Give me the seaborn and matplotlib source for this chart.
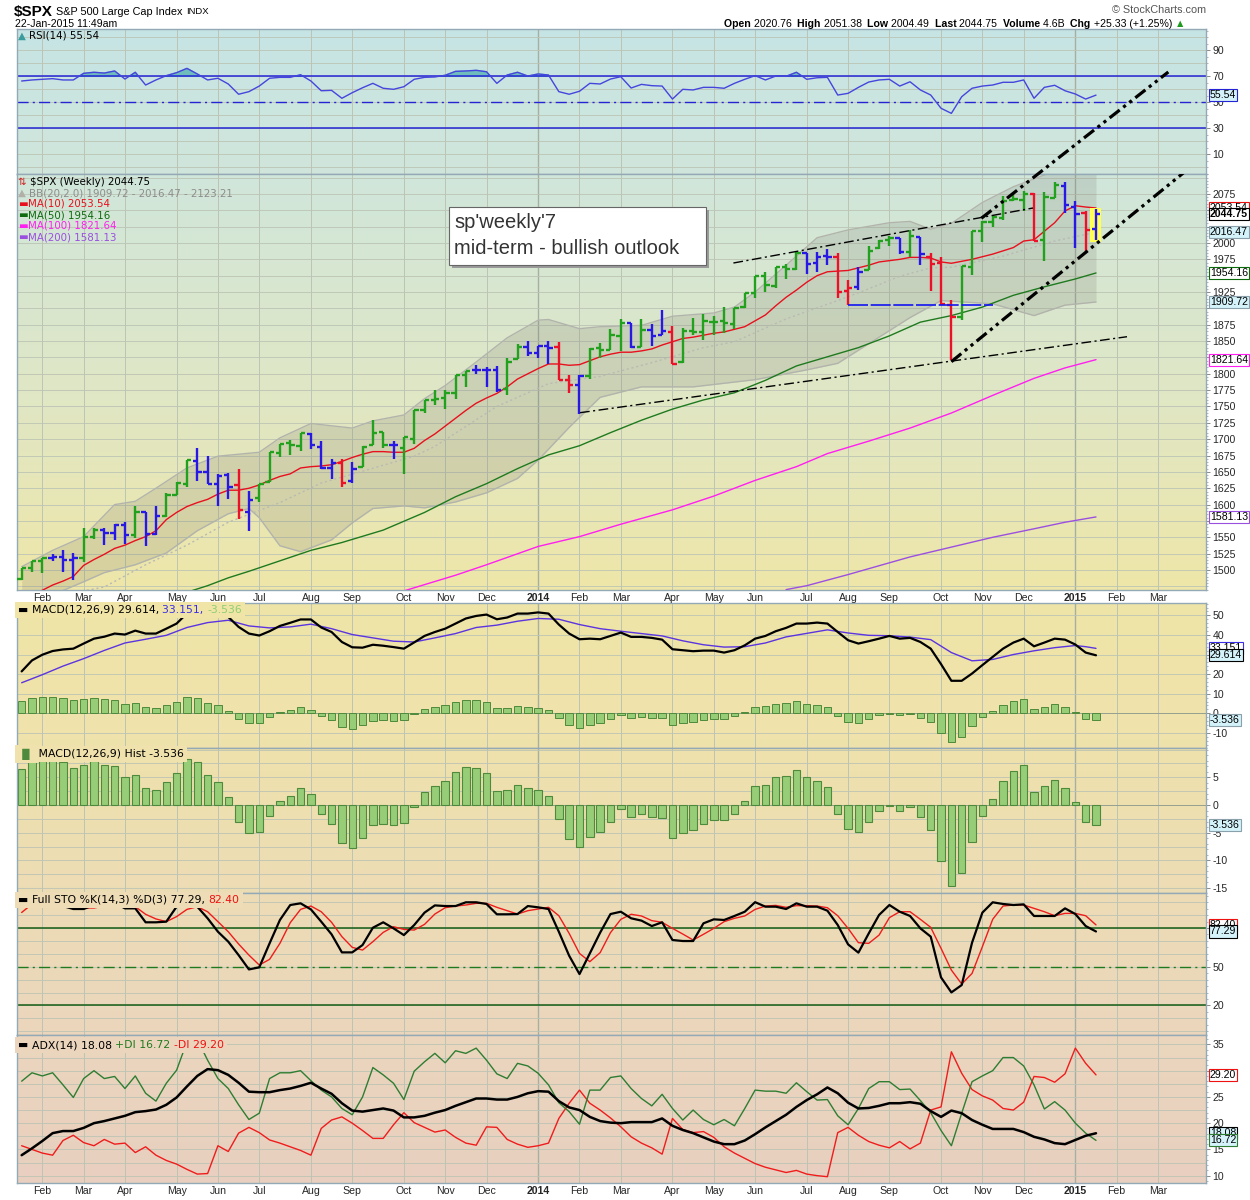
import numpy as np
import pandas as pd
import matplotlib
matplotlib.use("Agg")
import matplotlib.pyplot as plt
import seaborn as sns
from matplotlib.patches import Rectangle
from matplotlib.ticker import MultipleLocator

sns.set_style("white")
plt.rcParams["font.family"] = ["DejaVu Sans"]

W, H = 1250, 1200

# ---------------------------------------------------------------- data
first_week = "2013-01-21"

opens = [1485.98, 1502.96, 1513.17, 1517.93, 1519.79, 1515.60, 1518.20, 1551.18, 1560.70, 1556.89,
         1569.18, 1553.28, 1588.85, 1555.25, 1582.34, 1614.40, 1632.10, 1666.29, 1650.00, 1631.71,
         1644.67, 1630.64, 1588.77, 1609.78, 1634.20, 1679.59, 1694.41, 1690.32, 1708.01, 1688.37,
         1655.25, 1664.29, 1635.95, 1656.85, 1691.70, 1711.44, 1691.41, 1687.15, 1699.86, 1745.20,
         1759.42, 1763.40, 1769.96, 1798.82, 1806.33, 1806.55, 1806.21, 1777.48, 1822.92, 1841.47,
         1832.31, 1842.29, 1841.05, 1791.03, 1782.68, 1797.00, 1838.76, 1836.78, 1857.68, 1877.86,
         1841.05, 1867.67, 1859.16, 1863.92, 1818.18, 1865.79, 1863.23, 1879.45, 1880.07, 1876.66,
         1902.01, 1923.87, 1948.97, 1934.84, 1962.92, 1960.79, 1984.22, 1969.86, 1979.75, 1978.25,
         1926.42, 1933.43, 1958.36, 1991.74, 2004.07, 2007.17, 1986.04, 2009.08, 1978.96, 1970.01,
         1905.65, 1886.76, 1962.97, 2018.21, 2032.01, 2038.29, 2065.07, 2065.78, 2074.84, 2005.03,
         2069.28, 2087.63, 2054.44, 2046.13, 2020.76]
highs = [1503.26, 1514.41, 1518.31, 1524.69, 1530.94, 1525.84, 1563.62, 1563.95, 1564.20, 1570.28,
         1573.66, 1597.35, 1588.85, 1597.57, 1618.46, 1635.01, 1667.47, 1687.18, 1674.21, 1646.53,
         1648.69, 1654.19, 1620.07, 1632.07, 1680.19, 1693.12, 1698.78, 1709.67, 1709.24, 1696.81,
         1669.51, 1669.51, 1664.83, 1689.97, 1729.86, 1711.44, 1696.55, 1703.44, 1745.31, 1759.82,
         1775.22, 1774.54, 1798.22, 1804.84, 1813.55, 1810.02, 1811.52, 1823.75, 1844.89, 1849.44,
         1843.23, 1850.84, 1849.31, 1798.77, 1798.03, 1840.19, 1847.50, 1867.92, 1883.57, 1877.87,
         1883.97, 1875.92, 1897.28, 1872.53, 1869.63, 1884.89, 1891.33, 1889.07, 1902.17, 1901.26,
         1923.57, 1949.44, 1955.55, 1963.91, 1968.17, 1985.59, 1984.22, 1985.79, 1991.39, 1984.85,
         1942.92, 1964.04, 1994.76, 2005.04, 2011.17, 2007.17, 2019.26, 2009.08, 1985.17, 1977.84,
         1912.09, 1965.27, 2018.19, 2034.26, 2041.28, 2071.46, 2075.76, 2079.47, 2075.78, 2077.85,
         2093.55, 2093.55, 2064.43, 2049.30, 2051.38]
lows = [1485.01, 1496.33, 1495.02, 1513.61, 1497.29, 1485.01, 1512.50, 1547.36, 1538.57, 1546.22,
        1539.50, 1548.25, 1536.03, 1553.28, 1581.28, 1614.21, 1627.00, 1635.53, 1630.74, 1598.23,
        1608.07, 1577.70, 1560.33, 1604.57, 1634.20, 1672.10, 1676.03, 1681.86, 1684.91, 1654.34,
        1639.43, 1627.47, 1633.41, 1656.85, 1691.70, 1687.11, 1670.36, 1646.47, 1692.13, 1740.50,
        1752.70, 1746.20, 1761.56, 1780.02, 1800.08, 1779.09, 1772.28, 1767.99, 1822.92, 1827.74,
        1823.73, 1815.52, 1790.29, 1770.45, 1737.92, 1791.83, 1824.58, 1836.78, 1834.44, 1839.57,
        1841.05, 1842.11, 1859.16, 1814.36, 1815.80, 1859.70, 1851.03, 1859.79, 1862.36, 1868.14,
        1900.59, 1915.98, 1925.78, 1930.91, 1944.69, 1958.22, 1952.86, 1955.59, 1965.77, 1916.37,
        1904.78, 1928.29, 1958.36, 1990.52, 1995.79, 1983.53, 1978.48, 1965.99, 1926.03, 1905.03,
        1820.66, 1882.30, 1951.37, 2001.01, 2024.46, 2034.46, 2064.75, 2049.57, 2002.33, 1972.56,
        2069.28, 2046.04, 1992.44, 1988.12, 2004.49]
closes = [1502.96, 1513.17, 1517.93, 1519.79, 1515.60, 1518.20, 1551.18, 1560.70, 1556.89, 1569.19,
          1553.28, 1588.85, 1555.25, 1582.24, 1614.42, 1633.70, 1667.47, 1649.60, 1630.74, 1643.38,
          1626.73, 1592.43, 1606.28, 1631.89, 1680.19, 1692.09, 1691.65, 1709.67, 1691.42, 1655.83,
          1663.50, 1632.97, 1655.17, 1687.99, 1709.91, 1691.75, 1690.50, 1703.20, 1744.50, 1759.77,
          1761.64, 1770.61, 1798.18, 1804.76, 1805.81, 1805.09, 1775.32, 1818.32, 1841.40, 1831.37,
          1842.37, 1838.70, 1790.29, 1782.59, 1797.02, 1838.63, 1836.25, 1859.45, 1878.04, 1841.13,
          1866.52, 1857.62, 1865.09, 1815.69, 1864.85, 1863.40, 1881.14, 1878.48, 1877.86, 1900.53,
          1923.57, 1949.44, 1936.16, 1962.87, 1960.96, 1985.44, 1967.57, 1978.22, 1978.34, 1925.15,
          1931.59, 1955.06, 1988.40, 2003.37, 2007.71, 1985.54, 2010.40, 1982.85, 1967.90, 1906.13,
          1886.76, 1964.58, 2018.05, 2031.92, 2039.82, 2063.50, 2067.56, 2075.37, 2002.33, 2070.65,
          2088.77, 2058.20, 2044.81, 2019.42, 2044.75]
# impulse colour of every weekly bar: g = green, b = blue, r = red
bar_impulse = ("gggbbbggbb" "bgbbgggbbb" "brbgggggbb" "brbgggbggg" "ggggbbbggb"
               "bbrrbggggb" "gbbrgggggg" "ggggggbbbr" "rbgggbgbrr" "rgggggggrg" "gbbrb")

ma10 = [1455, 1462, 1469, 1477, 1483, 1490, 1507, 1516, 1524, 1533,
        1538, 1545, 1551, 1560, 1577, 1588, 1597, 1603, 1608, 1616,
        1622, 1622, 1625, 1630, 1637, 1643, 1647, 1656, 1658, 1659,
        1661, 1666, 1672, 1677, 1681, 1681, 1680, 1680, 1686, 1698,
        1708, 1720, 1732, 1744, 1755, 1763, 1770, 1780, 1792, 1800,
        1808, 1815, 1815, 1813, 1814, 1820, 1826, 1830, 1833, 1833,
        1835, 1838, 1844, 1849, 1854, 1856, 1859, 1862, 1864, 1868,
        1872, 1881, 1890, 1904, 1917, 1928, 1940, 1950, 1956, 1957,
        1958, 1962, 1966, 1971, 1973, 1975, 1978, 1978, 1977, 1971,
        1969, 1972, 1975, 1979, 1983, 1988, 1993, 2003, 2005, 2018,
        2031, 2049, 2057, 2055, 2053.54]
ma50_wk = [16, 18, 19, 20, 22, 25, 28, 31, 35, 39, 42, 45, 48, 51, 54, 57, 60, 63, 66, 69,
           72, 75, 78, 81, 84, 87, 90, 93, 96, 99, 102, 104]
ma50 = [1466, 1476, 1482, 1488, 1498, 1514, 1530, 1542, 1561, 1588, 1612, 1632, 1655, 1676,
        1690, 1710, 1729, 1746, 1760, 1771, 1790, 1812, 1826, 1840, 1858, 1879, 1889, 1902,
        1920, 1933, 1945, 1954.16]
ma100_wk = [37, 42, 45, 50, 54, 58, 63, 67, 71, 75, 78, 82, 86, 90, 94, 98, 101, 104]
ma100 = [1468, 1492, 1508, 1536, 1551, 1570, 1592, 1613, 1637, 1658, 1678, 1697, 1717, 1740,
         1767, 1793, 1809, 1821.64]
ma200_wk = [74, 76, 80, 86, 90, 94, 98, 101, 104]
ma200 = [1470, 1476, 1493, 1520, 1535, 1550, 1563, 1573, 1581.13]

bb_up_wk = [0, 3, 6, 9, 11, 13, 16, 19, 23, 25, 28, 32, 34, 37, 39, 41, 44, 47, 50, 51, 54, 56,
            60, 63, 67, 69, 71, 74, 77, 80, 84, 86, 88, 90, 93, 96, 99, 101, 104]
bb_up = [1505, 1530, 1551, 1600, 1605, 1625, 1656, 1674, 1680, 1702, 1724, 1717, 1728, 1737,
         1762, 1782, 1818, 1855, 1882, 1883, 1869, 1872, 1874, 1888, 1893, 1902, 1925, 1966,
         2008, 2020, 2031, 2033, 2021, 2030, 2062, 2086, 2104, 2113, 2123.21]
bb_lo_wk = [0, 3, 6, 8, 11, 14, 17, 20, 22, 23, 25, 27, 30, 32, 34, 37, 39, 42, 45, 48, 50, 53,
            56, 60, 65, 71, 76, 79, 82, 86, 89, 94, 98, 101, 104]
bb_lo = [1445, 1462, 1482, 1496, 1508, 1526, 1560, 1586, 1594, 1580, 1537, 1528, 1546, 1572,
         1594, 1598, 1595, 1604, 1618, 1640, 1668, 1718, 1764, 1780, 1780, 1791, 1806, 1816,
         1846, 1886, 1912, 1907, 1889, 1905, 1909.72]
bb_mid_wk = [4, 8, 12, 16, 20, 25, 29, 33, 38, 40, 46, 51, 56, 61, 66, 69, 74, 79, 82, 85, 88,
             90, 95, 100, 104]
bb_mid = [1462, 1474, 1508, 1538, 1573, 1603, 1633, 1651, 1674, 1689, 1750, 1785, 1796, 1817,
          1840, 1849, 1884, 1912, 1930, 1949, 1962, 1963, 1980, 2003, 2016.47]

rsi = [66.4, 67.2, 67.7, 68.2, 67.2, 67.2, 72.3, 73.1, 72.5, 74.1,
       67.9, 73.1, 63.3, 67.2, 70.5, 72.8, 76.1, 71.8, 67.2, 68.5,
       64.1, 56.2, 58.2, 62.5, 68.5, 69.2, 69.2, 71.2, 66.4, 58.9,
       59.2, 53.1, 57.4, 61.2, 64.6, 60.8, 60.0, 62.0, 67.7, 69.2,
       69.5, 70.8, 73.8, 74.1, 74.6, 73.5, 64.6, 71.0, 73.1, 70.2,
       71.8, 71.0, 58.2, 56.2, 58.5, 64.6, 64.1, 67.9, 69.7, 61.0,
       63.8, 62.8, 62.5, 52.5, 60.0, 59.5, 61.5, 61.5, 60.8, 64.6,
       67.7, 70.5, 67.2, 70.2, 70.0, 73.1, 67.7, 68.9, 69.2, 55.6,
       56.9, 61.5, 65.6, 67.2, 67.7, 62.5, 65.8, 59.5, 55.6, 45.4,
       41.5, 54.3, 60.8, 62.5, 63.3, 65.4, 65.4, 67.2, 53.1, 61.5,
       63.1, 58.9, 56.4, 52.5, 55.54]

macd = [21.4, 27.0, 29.9, 31.8, 32.6, 33.0, 35.6, 38.1, 39.1, 40.7,
        40.2, 42.2, 40.7, 40.7, 43.2, 45.8, 51.0, 52.8, 52.0, 51.0,
        49.2, 44.1, 40.7, 39.7, 41.9, 44.6, 46.2, 47.9, 47.9, 43.8,
        41.5, 36.4, 33.7, 33.5, 35.0, 34.5, 33.8, 33.0, 36.2, 39.5,
        41.5, 43.2, 45.8, 48.4, 49.7, 50.4, 48.0, 48.9, 50.9, 50.9,
        51.5, 50.9, 45.3, 40.7, 37.8, 38.1, 37.8, 39.5, 41.2, 39.0,
        39.0, 38.5, 37.6, 32.7, 32.2, 31.7, 32.0, 32.0, 31.0, 32.2,
        34.7, 38.1, 39.5, 41.9, 43.6, 45.8, 45.8, 46.3, 45.8, 41.5,
        37.3, 35.6, 36.8, 38.1, 39.5, 38.1, 38.5, 36.4, 33.0, 25.1,
        16.6, 16.6, 20.3, 24.6, 28.8, 33.0, 36.1, 38.1, 34.2, 36.1,
        38.1, 37.6, 35.1, 31.0, 29.614]
signal_wk = [0, 2, 4, 6, 8, 10, 12, 14, 16, 18, 20, 22, 24, 26, 28, 30, 32, 34, 36, 38, 40, 42,
             44, 46, 48, 50, 52, 54, 56, 58, 60, 62, 64, 66, 68, 70, 72, 74, 76, 78, 80, 82, 84,
             86, 88, 90, 92, 94, 96, 98, 100, 102, 103, 104]
signal = [15.6, 19.7, 24.1, 27.9, 32.1, 35.9, 37.8, 39.8, 43.8, 46.3, 47.5, 44.6, 43.6, 44.1,
          45.5, 43.2, 40.2, 38.5, 36.8, 36.4, 38.5, 40.7, 43.8, 45.0, 47.0, 48.4, 48.0, 45.3,
          43.2, 41.9, 40.7, 39.5, 37.0, 35.0, 33.8, 34.0, 35.9, 39.0, 40.8, 42.6, 41.0, 39.8,
          39.6, 38.9, 37.6, 31.0, 26.8, 27.5, 30.0, 31.9, 33.5, 34.6, 34.0, 33.151]
hist = [6.5, 8.0, 8.5, 8.5, 7.7, 6.6, 7.3, 7.9, 7.3, 7.0,
        5.0, 5.5, 3.0, 2.8, 4.1, 5.7, 8.3, 7.7, 5.4, 4.1,
        1.4, -3.0, -5.1, -4.9, -1.9, 0.7, 1.6, 3.0, 1.9, -1.6,
        -3.5, -6.9, -7.8, -6.0, -3.7, -3.5, -3.7, -3.2, -0.3, 2.3,
        3.4, 4.3, 5.9, 6.8, 6.6, 5.7, 2.5, 2.7, 3.7, 3.0,
        2.8, 1.7, -2.6, -6.2, -7.6, -5.8, -4.9, -3.0, -0.8, -2.2,
        -1.7, -2.2, -2.4, -6.0, -5.1, -4.6, -3.4, -2.8, -2.8, -1.6,
        0.7, 3.4, 3.6, 5.0, 5.2, 6.3, 5.0, 4.3, 3.2, -1.6,
        -4.4, -4.8, -3.0, -1.1, -0.1, -1.1, -0.4, -2.2, -4.6, -10.2,
        -14.7, -12.2, -6.6, -2.0, 1.0, 4.3, 6.1, 7.2, 2.3, 3.4,
        4.6, 3.0, 0.5, -3.0, -3.536]

sto_k = [99.5, 99.8, 100.0, 99.5, 97.0, 94.7, 94.7, 97.8, 99.0, 99.5,
         95.2, 95.2, 84.4, 84.4, 84.9, 96.5, 98.5, 96.5, 87.5, 77.1,
         69.4, 59.0, 47.9, 49.5, 68.1, 86.2, 97.8, 99.1, 94.4, 84.9,
         75.1, 61.1, 61.1, 66.8, 80.2, 84.4, 79.7, 74.5, 82.3, 91.9,
         97.5, 97.0, 97.0, 99.9, 99.9, 98.6, 90.6, 90.6, 90.8, 97.0,
         96.0, 94.7, 77.1, 58.5, 44.3, 60.3, 76.4, 90.8, 92.6, 87.5,
         85.7, 81.5, 84.4, 70.7, 69.9, 69.9, 83.6, 86.7, 86.2, 89.3,
         92.6, 100.0, 96.5, 96.5, 94.7, 99.1, 96.5, 96.5, 93.4, 82.3,
         67.3, 60.9, 75.8, 90.1, 97.8, 92.6, 89.3, 79.7, 73.3, 41.7,
         30.1, 35.8, 68.6, 91.9, 99.9, 98.6, 97.8, 98.3, 89.3, 89.3,
         89.3, 95.2, 90.8, 81.5, 77.29]
sto_d = [92.0, 98.5, 99.5, 99.5, 97.5, 96.5, 95.5, 95.5, 97.0, 98.5,
         98.0, 96.5, 90.6, 87.0, 84.9, 88.8, 94.4, 96.5, 92.6, 84.9,
         77.1, 67.6, 59.0, 51.3, 55.7, 68.1, 84.1, 94.4, 97.0, 92.6,
         84.4, 73.3, 65.0, 62.9, 69.4, 76.6, 81.0, 78.9, 78.4, 82.8,
         90.8, 95.7, 97.0, 97.8, 99.1, 99.1, 96.0, 93.4, 90.8, 93.4,
         94.7, 96.0, 89.5, 75.8, 60.3, 53.9, 60.9, 76.4, 86.7, 90.6,
         89.3, 85.7, 84.4, 79.7, 75.3, 70.7, 75.1, 79.7, 84.9, 87.5,
         89.3, 94.4, 97.0, 97.5, 96.0, 97.3, 97.3, 97.0, 95.7, 89.5,
         79.7, 68.6, 68.1, 74.5, 88.0, 92.6, 92.6, 86.7, 80.5, 64.2,
         47.4, 36.6, 44.8, 65.5, 86.7, 97.0, 97.8, 97.8, 95.2, 92.6,
         89.5, 91.3, 91.3, 89.5, 82.40]

adx = [13.9, 15.2, 16.6, 18.1, 18.5, 18.5, 19.1, 20.0, 20.4, 20.9,
       21.4, 22.1, 22.3, 22.6, 23.5, 24.9, 27.0, 29.0, 30.3, 30.1,
       29.2, 27.7, 26.0, 25.9, 25.9, 26.3, 26.6, 27.1, 27.7, 26.6,
       25.6, 23.8, 22.4, 22.2, 22.5, 22.8, 22.4, 21.1, 21.1, 21.4,
       22.0, 22.5, 23.3, 24.0, 24.7, 24.7, 24.5, 24.5, 25.0, 25.7,
       26.1, 26.0, 24.2, 23.0, 22.5, 21.2, 20.4, 20.1, 20.0, 20.2,
       20.2, 20.2, 20.9, 19.5, 18.7, 18.1, 17.3, 16.5, 16.0, 16.0,
       16.7, 17.9, 19.2, 20.4, 21.6, 23.1, 24.4, 25.5, 26.8, 25.7,
       23.9, 22.8, 22.9, 23.3, 23.8, 23.8, 24.0, 23.7, 22.3, 21.2,
       22.4, 21.9, 20.6, 19.7, 18.9, 18.9, 18.9, 18.3, 17.4, 16.9,
       16.2, 16.0, 16.8, 17.6, 18.08]
plus_di = [28.0, 29.6, 29.0, 29.6, 27.3, 24.9, 28.5, 30.0, 28.5, 28.9,
           26.6, 29.0, 25.7, 24.2, 27.6, 30.1, 35.5, 36.0, 32.0, 28.5,
           26.6, 23.5, 20.7, 21.9, 28.5, 29.6, 29.6, 30.0, 28.1, 26.3,
           25.0, 22.8, 21.6, 25.0, 30.6, 29.2, 27.6, 24.5, 29.9, 31.7,
           33.3, 31.5, 33.8, 33.3, 34.3, 32.0, 29.4, 28.5, 31.4, 30.9,
           29.5, 27.3, 23.9, 22.2, 19.8, 26.3, 26.3, 28.7, 29.0, 26.6,
           24.7, 23.3, 25.5, 22.8, 20.6, 22.5, 20.7, 19.7, 20.7, 19.5,
           22.8, 26.3, 26.1, 26.1, 25.7, 27.7, 26.0, 24.4, 24.5, 21.4,
           19.7, 22.8, 26.6, 27.9, 27.9, 26.4, 26.5, 24.3, 22.0, 18.6,
           15.7, 21.9, 27.9, 29.0, 30.0, 32.5, 32.5, 30.9, 27.3, 22.7,
           24.1, 22.5, 20.0, 18.1, 16.72]
minus_di = [15.7, 15.0, 14.3, 13.9, 16.7, 17.7, 16.3, 15.7, 16.9, 16.0,
            16.2, 14.4, 15.5, 13.9, 12.9, 12.2, 11.2, 10.3, 10.4, 15.7,
            14.6, 18.1, 19.2, 18.2, 16.8, 16.2, 15.5, 14.8, 13.9, 19.0,
            20.6, 21.2, 20.0, 18.6, 17.1, 17.1, 19.7, 22.0, 20.1, 19.2,
            18.3, 18.7, 17.3, 16.2, 15.8, 19.3, 19.2, 16.9, 16.0, 15.4,
            15.7, 16.2, 20.9, 23.8, 26.3, 23.8, 22.5, 21.0, 19.3, 17.4,
            16.2, 15.3, 14.1, 20.9, 18.8, 18.2, 18.4, 17.3, 15.5, 14.3,
            13.3, 12.3, 11.6, 11.1, 10.6, 11.0, 10.3, 10.0, 9.8, 18.2,
            19.2, 17.7, 16.5, 15.8, 15.3, 16.5, 15.1, 16.2, 22.5, 23.1,
            33.6, 29.5, 26.4, 25.2, 24.4, 22.8, 22.5, 24.0, 28.9, 28.7,
            27.8, 29.4, 34.3, 31.4, 29.20]

# hand-drawn annotations: (week, price) end points
trend_thin = [((54.05, 1740.5), (107.0, 1856.7)), ((68.9, 1969.4), (97.9, 2053.5))]
trend_thick = [((90.0, 1818.5), (112.8, 2111.6)), ((92.9, 2037.8), (111.0, 2261.5))]
support_level = 1905.5
support_weeks = (80, 94)
note_lines = ["sp'weekly'7", "mid-term - bullish outlook"]

# ---------------------------------------------------------------- helpers
n = len(closes)
wk = np.arange(n)
all_weeks = pd.date_range(first_week, periods=113, freq="W-MON")
month_idx, month_lab = [], []
for i in range(1, len(all_weeks)):
    if all_weeks[i].month != all_weeks[i - 1].month:
        month_idx.append(i)
        month_lab.append(str(all_weeks[i].year) if all_weeks[i].month == 1
                         else all_weeks[i].strftime("%b"))

GRAD = [(29, (0.776, 0.894, 0.898)), (174, (0.816, 0.902, 0.859)), (400, (0.878, 0.906, 0.769)),
        (590, (0.937, 0.902, 0.659)), (603, (0.941, 0.898, 0.655)), (748, (0.937, 0.886, 0.675)),
        (893, (0.929, 0.863, 0.710)), (1035, (0.922, 0.839, 0.741)), (1183, (0.910, 0.812, 0.753))]
SANS = ["Liberation Sans", "DejaVu Sans"]


def bg_color(y):
    ys = [g[0] for g in GRAD]
    return tuple(np.interp(y, ys, [g[1][c] for g in GRAD]) for c in range(3))


X0, X1 = 16.7, 1205.5
XLIM = (-0.48, 114.6)
fig = plt.figure(figsize=(W / 100, H / 100), dpi=100)
fig.patch.set_facecolor("white")


def panel(top, bottom, ylim, z=1):
    ax = fig.add_axes([X0 / W, 1 - bottom / H, (X1 - X0) / W, (bottom - top) / H], zorder=z)
    ax.set_facecolor("none")
    rows = np.arange(top, bottom)
    img = np.array([bg_color(r) for r in rows]).reshape(-1, 1, 3)
    ax.imshow(img, extent=(XLIM[0], XLIM[1], ylim[0], ylim[1]), aspect="auto",
              origin="upper", zorder=0, interpolation="bilinear")
    ax.set_xlim(*XLIM)
    ax.set_ylim(*ylim)
    for s in ax.spines.values():
        s.set_color("#93a9b6")
        s.set_linewidth(1.0)
    for i, lab in zip(month_idx, month_lab):
        ax.axvline(i, color="#a6b0a2" if lab.isdigit() else "#bcc4b4",
                   lw=1.0 if lab.isdigit() else 0.7, zorder=0.5)
    ax.yaxis.tick_right()
    ax.tick_params(axis="y", which="major", labelsize=7.6, length=3, width=0.6,
                   color="#777777", pad=2)
    ax.tick_params(axis="y", which="minor", length=1.5, width=0.5, color="#999999")
    ax.set_xticks(month_idx)
    ax.set_xticklabels(month_lab)
    ax.tick_params(axis="x", length=0, labelsize=7.6, pad=2, labelbottom=False)
    return ax


def right_ticks(ax, ticks, avoid, tol, minor=None):
    ax.set_yticks(ticks)
    ax.set_yticklabels(["" if any(abs(t - a) < tol for a in avoid) else f"{t:g}" for t in ticks])
    for lab in ax.get_yticklabels():
        lab.set_family(SANS)
    if minor:
        ax.yaxis.set_minor_locator(MultipleLocator(minor))


def bold_years(ax):
    for t in ax.get_xticklabels():
        t.set_family(SANS)
        if t.get_text().isdigit():
            t.set_fontweight("bold")


def hgrid(ax, levels):
    for v in levels:
        ax.axhline(v, color="#bcc4b4", lw=0.6, zorder=0.5)


def tag(ax, y, text, fc, ec, bold=False):
    ax.annotate(text, xy=(1, y), xycoords=ax.get_yaxis_transform(), xytext=(3.2, 0),
                textcoords="offset points", ha="left", va="center", fontsize=7.6,
                family=SANS, fontweight="bold" if bold else "normal", color="black",
                bbox=dict(boxstyle="square,pad=0.1", fc=fc, ec=ec, lw=0.8),
                annotation_clip=False, zorder=30)


def seq_text(x_px, y_px, parts, size=7.0, cover=False, family=None):
    rend = fig.canvas.get_renderer()
    x = x_px
    for s, col, wt in parts:
        kw = {}
        if cover:
            kw["bbox"] = dict(boxstyle="square,pad=0.3", fc=bg_color(y_px), ec="none")
        if family:
            kw["family"] = family
        t = fig.text(x / W, 1 - y_px / H, s, color=col, fontsize=size, fontweight=wt,
                     ha="left", va="center", zorder=40, **kw)
        x += t.get_window_extent(rend).width
    return x


def line(ax, x, y, color, lw=1.0, **kw):
    sns.lineplot(x=list(x), y=list(y), ax=ax, color=color, linewidth=lw, legend=False,
                 estimator=None, sort=False, zorder=kw.pop("zorder", 3), **kw)
    ax.set_xlabel("")
    ax.set_ylabel("")


LIGHT = "#d4f2fa"

# ---------------------------------------------------------------- RSI
ax_rsi = panel(29, 174, (-5.15, 106.4), z=1)
hgrid(ax_rsi, range(0, 101, 10))
r = np.array(rsi)
ax_rsi.fill_between(wk, r, 70, where=r > 70, interpolate=True, color="#6fbcbc", zorder=2)
ax_rsi.axhline(70, color="#2424d4", lw=1.1, zorder=2)
ax_rsi.axhline(30, color="#2424d4", lw=1.1, zorder=2)
ax_rsi.axhline(50, color="#2424d4", lw=1.0, ls=(0, (8, 3, 1.5, 3)), zorder=2)
line(ax_rsi, wk, rsi, "#4545dd", 1.0)
right_ticks(ax_rsi, [10, 30, 50, 70, 90], [], 0, minor=5)
tag(ax_rsi, 55.54, "55.54", LIGHT, "#2424d4")

# ---------------------------------------------------------------- price
ax_p = panel(174, 590, (1469.4, 2105.5), z=2)
hgrid(ax_p, range(1475, 2101, 25))
price_tags = [2053.54, 2044.75, 2016.47, 1954.16, 1909.72, 1821.64, 1581.13]
right_ticks(ax_p, list(range(1500, 2076, 25)), price_tags, 9.9, minor=5)
ax_p.tick_params(axis="x", labelbottom=True)
bold_years(ax_p)

bb_x = np.arange(0, n)
up_i = np.interp(bb_x, bb_up_wk, bb_up)
lo_i = np.interp(bb_x, bb_lo_wk, bb_lo)
ax_p.fill_between(bb_x, lo_i, up_i, color="#6e6e64", alpha=0.17, lw=0, zorder=1)
line(ax_p, bb_up_wk, bb_up, "#b2b4ac", 1.0, zorder=1.5)
line(ax_p, bb_lo_wk, bb_lo, "#b2b4ac", 1.0, zorder=1.5)
line(ax_p, bb_mid_wk, bb_mid, "#b9bab2", 1.0, zorder=1.5, linestyle=(0, (1.5, 2)))
line(ax_p, ma200_wk, ma200, "#9b4fe0", 1.0)
line(ax_p, ma100_wk, ma100, "#ff1ff0", 1.0)
line(ax_p, ma50_wk, ma50, "#1f7a1f", 1.0)
line(ax_p, wk, ma10, "#e8101e", 1.0)

ax_p.add_patch(Rectangle((103.45, 2001.5), 1.0, 52, color="#ffff58", zorder=3.5, lw=0))
col_map = {"g": "#22a11e", "b": "#2818e6", "r": "#ec1028"}
cols = [col_map[c] for c in bar_impulse]
ax_p.vlines(wk, lows, highs, colors=cols, lw=1.7, zorder=4)
ax_p.hlines(opens, wk - 0.42, wk, colors=cols, lw=1.7, zorder=4)
ax_p.hlines(closes, wk, wk + 0.42, colors=cols, lw=1.7, zorder=4)

ax_p.hlines(support_level, *support_weeks, colors="#1414f0", lw=1.2,
            linestyles=[(0, (12, 1.6))], zorder=5)
for (a, b) in trend_thin:
    ax_p.plot([a[0], b[0]], [a[1], b[1]], color="black", lw=1.0,
              ls=(0, (7, 2.5, 1.5, 2.5)), zorder=5)
for k, (a, b) in enumerate(trend_thick):
    ax_p.plot([a[0], b[0]], [a[1], b[1]], color="black", lw=2.3,
              ls=(0, (4, 1.4, 1, 1.4, 1, 1.4)), zorder=5, clip_on=(k == 0))

tag(ax_p, 2053.54, "2053.54", "white", "#ee1111")
tag(ax_p, 2044.75, "2044.75", "white", "black", bold=True)
tag(ax_p, 2016.47, "2016.47", LIGHT, "#8aa0aa")
tag(ax_p, 1954.16, "1954.16", "white", "#0b6a0b")
tag(ax_p, 1909.72, "1909.72", LIGHT, "#8aa0aa")
tag(ax_p, 1821.64, "1821.64", "white", "#ff1ff0")
tag(ax_p, 1581.13, "1581.13", "white", "#9b4fe0")

# ---------------------------------------------------------------- MACD
ax_m = panel(603, 748, (-17.7, 56.3))
hgrid(ax_m, range(-10, 51, 10))
ax_m.axhline(0, color="#8f9a8a", lw=0.6, zorder=0.6)
ax_m.bar(wk, hist, width=0.72, color="#98cd78", edgecolor="#4e8a3c", lw=0.7, zorder=2)
line(ax_m, signal_wk, signal, "#5a34e0", 1.0)
line(ax_m, wk, macd, "black", 1.6)
right_ticks(ax_m, [-10, 0, 10, 20, 30, 40, 50], [33.151, 29.614], 4.9, minor=2)
tag(ax_m, 33.151, "33.151", "white", "#3a2ee6")
tag(ax_m, 29.614, "29.614", LIGHT, "black")
tag(ax_m, -3.536, "-3.536", LIGHT, "#8aa0aa")

# ---------------------------------------------------------------- MACD histogram
ax_h = panel(748, 893, (-15.9, 10.3))
hgrid(ax_h, np.arange(-15, 10.1, 2.5))
ax_h.axhline(0, color="#8f9a8a", lw=0.6, zorder=0.6)
ax_h.bar(wk, hist, width=0.72, color="#98cd78", edgecolor="#4e8a3c", lw=0.8, zorder=2)
right_ticks(ax_h, [-15, -10, -5, 0, 5], [], 0, minor=1)
tag(ax_h, -3.536, "-3.536", LIGHT, "#8aa0aa")

# ---------------------------------------------------------------- Full stochastics
ax_s = panel(893, 1035, (-2.9, 107.1))
hgrid(ax_s, range(0, 101, 10))
ax_s.axhline(80, color="#145c14", lw=1.1, zorder=2)
ax_s.axhline(20, color="#145c14", lw=1.1, zorder=2)
ax_s.axhline(50, color="#1f7a1f", lw=1.0, ls=(0, (8, 3, 1.5, 3)), zorder=2)
line(ax_s, wk, sto_d, "#f01c1c", 1.0)
line(ax_s, wk, sto_k, "black", 1.6)
right_ticks(ax_s, [20, 50, 80], [82.40, 77.29], 6, minor=5)
tag(ax_s, 82.40, "82.40", "white", "#ee1111")
tag(ax_s, 77.29, "77.29", LIGHT, "black")

# ---------------------------------------------------------------- ADX
ax_a = panel(1035, 1183, (8.6, 36.8))
hgrid(ax_a, np.arange(10, 36, 2.5))
line(ax_a, wk, minus_di, "#f01c1c", 1.0)
line(ax_a, wk, plus_di, "#2e7d32", 1.0)
line(ax_a, wk, adx, "black", 1.8)
right_ticks(ax_a, [10, 15, 20, 25, 30, 35], [29.20], 1.5, minor=1)
ax_a.tick_params(axis="x", labelbottom=True)
bold_years(ax_a)
tag(ax_a, 29.20, "29.20", "white", "#ee1111")
tag(ax_a, 18.08, "18.08", LIGHT, "black")
tag(ax_a, 16.72, "16.72", LIGHT, "#2e7d32")

# ---------------------------------------------------------------- text: header and legends
x_end = seq_text(14, 12, [("$SPX", "black", "bold")], size=11, family=SANS)
x_end = seq_text(x_end + 3, 12, [("S&P 500 Large Cap Index", "black", "normal")], size=7.8, family=SANS)
seq_text(x_end + 4, 12, [("INDX", "black", "normal")], size=6.8, family=SANS)
seq_text(15, 24, [("22-Jan-2015 11:49am", "black", "normal")], size=7.6, family=SANS)
fig.text(1206 / W, 1 - 10 / H, "\u00a9 StockCharts.com", ha="right", va="center",
         fontsize=7.8, color="#555555", family=SANS)
seq_text(724, 24, [("Open ", "black", "bold"), ("2020.76  ", "black", "normal"),
                   ("High ", "black", "bold"), ("2051.38  ", "black", "normal"),
                   ("Low ", "black", "bold"), ("2004.49  ", "black", "normal"),
                   ("Last ", "black", "bold"), ("2044.75  ", "black", "normal"),
                   ("Volume ", "black", "bold"), ("4.6B  ", "black", "normal"),
                   ("Chg ", "black", "bold"), ("+25.33 (+1.25%) ", "black", "normal"),
                   ("\u25b2", "#1f9a1f", "normal")], size=7.6, family=SANS)

LG = 7.4
seq_text(18, 36, [("\u25b2 ", "#3a9c9c", "normal"), ("RSI(14) 55.54", "black", "normal")], size=LG)
seq_text(18, 182, [("\u21c5 ", "#cc2222", "normal"), ("$SPX (Weekly) 2044.75", "black", "normal")], size=LG)
seq_text(18, 193, [("\u25b2 ", "#b0b0a8", "normal"),
                   ("BB(20,2.0) 1909.72 - 2016.47 - 2123.21", "#8c8c8c", "normal")], size=LG)
for yy, txt, c in [(204, "MA(10) 2053.54", "#e8101e"), (215, "MA(50) 1954.16", "#0f6a0f"),
                   (226, "MA(100) 1821.64", "#ff1ff0"), (237, "MA(200) 1581.13", "#9b4fe0")]:
    seq_text(18, yy, [("\u25ac", c, "normal"), (txt, c, "normal")], size=LG)

seq_text(18, 610, [("\u25ac ", "black", "normal"), ("MACD(12,26,9) 29.614, ", "black", "normal"),
                   ("33.151, ", "#3a2ee6", "normal"), ("-3.536", "#8fcf70", "normal")],
         size=7.8, cover=True)
seq_text(18, 754, [("\u2590\u258c", "#4e8a3c", "normal"), (" MACD(12,26,9) Hist -3.536", "black", "normal")],
         size=7.8, cover=True)
seq_text(18, 900, [("\u25ac ", "black", "normal"), ("Full STO %K(14,3) %D(3) 77.29, ", "black", "normal"),
                   ("82.40", "#ee1111", "normal")], size=7.8, cover=True)
seq_text(18, 1045, [("\u25ac ", "black", "normal"), ("ADX(14) 18.08 ", "black", "normal"),
                    ("+DI 16.72 ", "#1f7a1f", "normal"), ("-DI 29.20", "#ee1111", "normal")],
         size=7.8, cover=True)

# note box with drop shadow
bx, by, bw, bh = 449, 207, 257, 58
fig.add_artist(Rectangle(((bx + 3) / W, 1 - (by + bh + 3) / H), bw / W, bh / H,
                         transform=fig.transFigure, fc="#9a9a9a", ec="none", zorder=45))
fig.add_artist(Rectangle((bx / W, 1 - (by + bh) / H), bw / W, bh / H,
                         transform=fig.transFigure, fc="white", ec="#666666", lw=0.8, zorder=46))
for k, s in enumerate(note_lines):
    fig.text((bx + 5) / W, 1 - (by + 15 + 27 * k) / H, s, fontsize=14.5, color="#333333",
             family=SANS, ha="left", va="center", zorder=47)

fig.savefig("out.png", dpi=100, facecolor="white")
